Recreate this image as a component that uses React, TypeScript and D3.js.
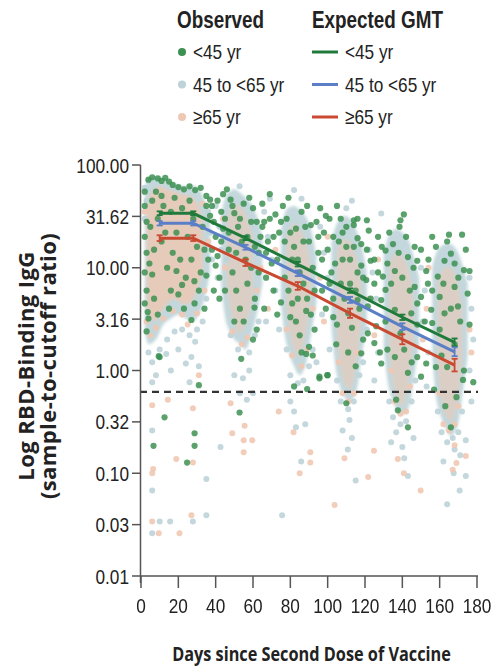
import React from 'react';
import * as d3 from 'd3';

// ---------- data ----------
const X_TICKS = [0, 20, 40, 60, 80, 100, 120, 140, 160, 180];
const Y_TICKS = [0.01, 0.03162, 0.1, 0.3162, 1, 3.162, 10, 31.62, 100];
const Y_TICK_LABELS = ['0.01', '0.03', '0.10', '0.32', '1.00', '3.16', '10.00', '31.62', '100.00'];
const THRESHOLD = 0.62;

const GMT_DAYS = [10, 28, 56, 84, 112, 140, 168];
const GMT_LT45 = [33.9, 33.9, 19.4, 10.8, 5.98, 3.3, 1.88];
const GMT_LT45_LO = [32.5, 32.5, 18.6, 10.3, 5.7, 3.1, 1.73];
const GMT_LT45_HI = [35.4, 35.4, 20.3, 11.4, 6.3, 3.5, 2.05];
const GMT_45_65 = [27.1, 27.1, 15.8, 8.83, 4.86, 2.67, 1.52];
const GMT_45_65_LO = [25.8, 25.8, 15.0, 8.3, 4.55, 2.48, 1.38];
const GMT_45_65_HI = [28.5, 28.5, 16.7, 9.4, 5.2, 2.88, 1.68];
const GMT_GE65 = [19.4, 19.4, 11.2, 6.64, 3.6, 2.01, 1.13];
const GMT_GE65_LO = [18.2, 18.2, 10.4, 6.1, 3.25, 1.8, 0.98];
const GMT_GE65_HI = [20.7, 20.7, 12.1, 7.25, 4.0, 2.25, 1.3];

// dense observed regions (day, low, high) for the 45-<65 and >=65 groups
const BAND_45_65: [number, number, number][][] = [
  [[2, 2.8, 60], [4, 1.8, 72], [8, 2.0, 75], [12, 2.8, 72], [16, 3.2, 68], [20, 3.5, 64], [24, 3.2, 62], [28, 3.0, 63], [31, 3.5, 58], [34, 5, 45], [37, 9, 30]],
  [[43, 7, 32], [46, 2.8, 52], [50, 2.0, 58], [53, 1.8, 54], [56, 1.6, 48], [59, 2.2, 42], [62, 3.5, 32], [65, 7, 20]],
  [[75, 4.5, 22], [78, 1.8, 37], [82, 1.1, 40], [85, 0.9, 37], [88, 1.1, 32], [91, 2.2, 24], [94, 4.5, 13]],
  [[102, 2.8, 17], [105, 0.9, 27], [109, 0.55, 32], [112, 0.5, 30], [115, 0.6, 24], [118, 1.3, 17], [121, 2.8, 9]],
  [[130, 1.8, 13], [133, 0.65, 21], [137, 0.42, 24], [140, 0.37, 22], [143, 0.42, 19], [146, 0.8, 13], [149, 1.8, 8]],
  [[156, 1.4, 10], [159, 0.45, 15], [163, 0.28, 17], [166, 0.23, 17], [169, 0.27, 15], [172, 0.55, 11], [175, 1.4, 7]],
];
const BAND_GE65: [number, number, number][][] = [
  [[3, 4, 45], [7, 3, 58], [10, 3.5, 62], [14, 4.5, 58], [18, 5, 55], [22, 4.5, 52], [26, 4.5, 50], [29, 5.5, 46], [33, 9, 30]],
  [[46, 6, 30], [50, 2.8, 42], [53, 2.3, 40], [56, 2.8, 34], [60, 5, 20]],
  [[78, 4, 21], [82, 1.6, 27], [85, 1.4, 24], [88, 2.2, 19], [91, 5, 10]],
  [[105, 2, 15], [109, 0.75, 19], [112, 0.65, 18], [115, 1.1, 13], [118, 3, 7]],
  [[133, 1.5, 11], [137, 0.55, 14], [140, 0.45, 13], [143, 0.75, 10], [146, 2, 5]],
  [[159, 1, 8], [163, 0.37, 10], [166, 0.32, 10], [169, 0.45, 8], [172, 1.2, 4]],
];

// individual observed points "day value"
const OBS_LT45 = `4 72, 6 76, 9 74, 11 70, 13 75, 15 69, 17 64, 20 61, 23 58, 26 62, 29 57, 32 60, 35 50, 37 46,
2 55, 2 40, 3 28, 2 20, 3 14, 2 9, 3 6, 2 4.5, 4 3.2, 3 2.4, 3.6 3.7,
6 45, 9 30, 11 18, 14 10, 16 35, 19 22, 21 12, 24 8, 26 45, 28 30, 30 16, 33 25, 35 40, 36 12, 31 6, 20 5.5, 15 4, 9 3.5, 27 3.1, 34 4, 4.5 11, 6 8.6, 19 9.3, 22 6.8, 28.6 7.4, 35 8.4, 28.7 4.5,
5 25, 7 15, 12 40, 13 22, 17 14, 18 48, 22 38, 25 20, 27 12, 32 9, 34 15, 8 55, 11 50, 16 6, 23 4, 7 5,
10 1.35, 31 0.72, 12.6 0.35, 6.7 0.185, 28.7 0.245, 28.7 0.185, 24.7 0.127, 9.5 1.38,
38 40, 39 28, 40 20, 41 13, 42 8, 43 35, 44 24, 40 10.5, 38 15, 44 52, 42 5, 39 6,
37 32, 41 45, 43 18, 45 30, 47 22, 49 40, 51 14, 53 30, 55 42, 57 20, 59 28, 61 16, 63 9, 65 25, 67 14, 69 30, 71 20, 73 12, 75 28, 45 6, 50 3, 62 2.5,
46 58, 48 46, 50 34, 52 25, 54 18, 56 12, 58 48, 60 38, 62 28, 64 20, 47 15, 49 9, 51 6, 53 4, 55 3, 57 7, 59 10, 61 5, 63 14, 65 42, 66 28, 68 18, 70 11, 67 8, 72 33, 74 22, 69 52, 71 6, 66 4, 60.8 4.1, 60 2.0, 53.7 1.3, 73 3.5, 75 4.6, 52.8 0.39,
76 40, 78 30, 80 22, 82 16, 84 12, 86 35, 88 25, 90 18, 92 10, 94 28, 77 8, 79 6, 81 4.5, 83 3, 85 2.2, 87 7, 89 5, 91 3.5, 93 2.5, 95 14, 96 38, 98 22, 100 15, 102 9, 97 6, 99 4, 101 30, 103 20, 104 11, 88.5 3.8, 90 1.7, 86 1.5, 95.6 0.87, 100 0.9, 104.6 1.8, 89 0.66, 82 0.7, 88.5 1.45, 95.6 0.84, 99.8 0.9,
77 18, 79 48, 81 12, 83 24, 85 9, 87 18, 89 40, 91 26, 93 6, 95 20, 97 12, 99 32, 101 7, 103 5, 80 3.3, 84 5, 92 1.4,
105 40, 107 30, 108 22, 110 16, 112 12, 114 26, 116 9, 107 7, 109 5, 111 3.6, 113 2.6, 115 6, 117 4, 119 2, 105 2.8, 103 3.3, 110 0.48, 114 29, 116 19.4, 118 17, 116 4.85, 118 10.5, 118 1.47,
106 18, 108 12, 110 25, 112 7, 114 16, 116 30, 119 8, 121 15, 123 5, 125 12, 127 9, 129 16, 131 3, 133 22, 134 7, 111 1.5, 115 1.1, 126 2.7,
121 29, 122 23, 127 20, 135 17, 131 14.7, 123 11.7, 132 11, 136 9.3, 129.6 8.2, 120.7 7.6, 125 7, 131 6.1, 128.7 4.85, 121.5 4.2, 136 3.9, 121.5 2.3, 125 1.85, 132 1.6, 136 1.35, 128.7 1.17, 128 1.5, 140.8 33, 139 29, 138.5 25, 146.6 16, 143 12.7, 148 11.7, 146.6 6.5, 144.8 3.6, 148 2.8, 148 1.35, 143 0.95, 136.7 0.52, 137.6 0.41, 143 0.28, 150 0.87,
138 14, 140 8, 142 20, 144 6, 146 10, 148 4.5, 150 15, 152 3, 154 12, 156 6, 158 16, 160 2.5, 162 7, 164 18, 166 4, 168 1.8, 170 8, 171 3, 174 15, 176 2.8, 139 2.3, 141 1.6, 145 1.2, 161 1.4, 169 0.55, 163 0.45,
156 20, 165 21, 172 21, 162.6 11.7, 166 13.7, 168 11, 173 9.5, 176 9.3, 159 8.2, 152.8 9.3, 153.7 7, 150 5.2, 160 5.2, 168 6.5, 175 5.6, 169.8 4.2, 162.6 3.6, 155.5 3.9, 156 2.9, 152.8 1.17, 158 1.08, 164 1.08, 173 1.0, 178 0.77, 172.5 0.81, 157 0.65, 166 0.28`;

const OBS_45_65 = `2 60, 3 45, 2 30, 4 70, 36 35, 37 22, 38 12, 35 5, 33 3, 30 2.5, 26 2.2, 22 2.5, 18 2.4, 14 2, 10 1.6, 6 1.2, 4 1.5, 8 0.9, 27 1.35, 24 1.17, 26 0.77, 13.5 1.45, 29 1.9, 31 1.1,
6 0.77, 6 0.26, 6 0.068, 6 0.026, 10 0.034, 15.6 0.034, 27.8 0.034, 35 0.088, 35 0.039, 42.6 0.18, 56.7 0.52, 75.6 0.039, 82 0.4, 85.8 0.13, 111.7 0.33, 115 0.085, 110.8 0.17, 136.7 0.25, 140 0.18, 143 0.094, 164 0.05, 170.7 0.068, 174 0.094, 174 0.21, 168 0.17, 167.5 0.1, 54.6 0.84,
40 40, 42 25, 43 15, 41 8, 52.8 62, 66 35, 68 20, 70 12, 72 6, 67 3, 74 2.5, 96 25, 98 14, 100 8, 97 3.5, 101 1.6, 94 1.2, 122 15, 124 9, 126 5, 121 2.5, 127 1.5, 125 0.8, 150 10, 152 6, 151 3, 154 1.5, 153 0.7, 176 8, 177 4, 178 2, 176 1, 177 0.5, 69 47, 86 47, 82 57, 110 38, 113 45, 128.7 33.8,
45 20, 46 12, 48 2.2, 52 1.6, 58 1.5, 61 2.2, 63 3, 78 1.6, 80 0.9, 84 0.75, 87 0.8, 90 1.1, 92 1.6, 105 0.8, 107 0.5, 111 0.42, 114 0.5, 117 0.9, 119 1.2, 133 0.5, 135 0.35, 139 0.3, 142 0.32, 145 0.5, 147 0.8, 159 0.4, 161 0.25, 164 0.2, 167 0.22, 170 0.25, 172 0.4,
50 0.9, 53 0.6, 60 0.6, 80 0.5, 83 0.28, 88 0.3, 108 0.26, 113 0.22, 134 0.2, 141 0.14, 146 0.22, 162 0.13, 171 0.15, 58 1.0, 20 1.6, 16 1.0`;

const OBS_GE65 = `6 0.46, 6 0.1, 6.5 0.11, 6 0.034, 9.5 0.026, 20.6 0.026, 18.9 0.138, 27.8 0.127, 27 0.039, 27.8 0.43, 31 0.9, 14.4 0.52, 48 0.48, 48.9 0.245, 55.5 0.29, 55 0.21, 59.6 0.21, 55 0.16, 73.8 0.4, 81.7 0.25, 90.7 0.16, 90.7 0.127, 85 0.1, 103.7 0.049, 109 0.14, 121.7 0.092, 124.8 0.166, 137.6 0.138, 140.8 0.1, 149.8 0.068, 168 0.187, 167 0.108, 169 0.126, 174 0.147,
3 3, 5 2.2, 8 2.6, 12 3.2, 17 3.8, 22 3.5, 25 2.8, 30 3.6, 34 6, 36 18, 33 42, 2 35, 45 10, 49 2.4, 54 1.8, 57 2.1, 62 6, 78 2.5, 81 1.4, 86 1.1, 89 1.6, 92 4, 106 1.2, 108 0.6, 111 0.5, 114 0.6, 116 1.5, 134 1.0, 136 0.5, 139 0.38, 142 0.4, 144 0.7, 160 0.6, 162 0.3, 165 0.26, 168 0.3, 170 0.45,
64 10, 68 4, 96 8, 98 3, 122 5, 125 2.2, 151 2, 153 4, 176 2.5, 177 1.5, 44 30, 72 15, 100 20, 127 12, 154 10`;

function parsePts(s: string): [number, number][] {
  return s
    .split(',')
    .map((t) => t.trim())
    .filter((t) => t.length > 0)
    .map((t) => {
      const p = t.split(/\s+/).map(Number);
      return [p[0], p[1]] as [number, number];
    });
}

const SANS = "'Liberation Sans', Arial, sans-serif";
const TITLE = "'Open Sans', 'DejaVu Sans', sans-serif";

const C_GREEN_DOT = '#3c9152';
const C_BLUE_DOT = '#bdd3d8';
const C_PEACH_DOT = '#efc8b3';
const C_GREEN = '#1f7a3c';
const C_BLUE = '#5b7fc6';
const C_RED = '#c94a30';

// horizontally condensed text
function NText(props: {
  x: number;
  y: number;
  size: number;
  anchor?: 'start' | 'middle' | 'end';
  weight?: number;
  sx?: number;
  family?: string;
  children: React.ReactNode;
}) {
  const sx = props.sx ?? 0.82;
  return (
    <text
      transform={`translate(${props.x},${props.y}) scale(${sx},1)`}
      textAnchor={props.anchor ?? 'start'}
      fontSize={props.size}
      fontWeight={props.weight ?? 400}
      fontFamily={props.family ?? SANS}
      fill="#222"
    >
      {props.children}
    </text>
  );
}

export default function App() {
  const W = 495;
  const H = 669;
  const x = d3.scaleLinear().domain([0, 180]).range([141, 477]);
  const y = d3.scaleLog().domain([0.01, 100]).range([576, 165]);

  const area = d3
    .area<[number, number, number]>()
    .x((d) => x(d[0]))
    .y0((d) => y(d[1]))
    .y1((d) => y(d[2]))
    .curve(d3.curveCatmullRom);

  const line = d3
    .line<[number, number]>()
    .x((d) => x(d[0]))
    .y((d) => y(d[1]));

  const greenPts = parsePts(OBS_LT45);
  const bluePts = parsePts(OBS_45_65);
  const peachPts = parsePts(OBS_GE65);

  const series = [
    { v: GMT_LT45, lo: GMT_LT45_LO, hi: GMT_LT45_HI, c: C_GREEN },
    { v: GMT_45_65, lo: GMT_45_65_LO, hi: GMT_45_65_HI, c: C_BLUE },
    { v: GMT_GE65, lo: GMT_GE65_LO, hi: GMT_GE65_HI, c: C_RED },
  ];

  const legendRows = [
    { label: '<45 yr', dot: C_GREEN_DOT, line: C_GREEN },
    { label: '45 to <65 yr', dot: C_BLUE_DOT, line: C_BLUE },
    { label: '\u226565 yr', dot: C_PEACH_DOT, line: C_RED },
  ];
  const rowY = [52, 84.5, 117];

  return (
    <svg width={W} height={H} style={{ display: 'block', position: 'absolute', left: 0, top: 0, background: '#fff' }}>
      <defs>
        <filter id="soft" x="-20%" y="-20%" width="140%" height="140%">
          <feGaussianBlur stdDeviation="1.5" />
        </filter>
        <filter id="dotblur" x="-20%" y="-20%" width="140%" height="140%">
          <feGaussianBlur stdDeviation="0.5" />
        </filter>
      </defs>
      <rect width={W} height={H} fill="#fff" />

      {/* dense bands */}
      <g filter="url(#soft)">
        {BAND_45_65.map((b, i) => (
          <path key={'b' + i} d={area(b) || ''} fill={C_BLUE_DOT} opacity={0.9} />
        ))}
        {BAND_GE65.map((b, i) => (
          <path key={'p' + i} d={area(b) || ''} fill={C_PEACH_DOT} opacity={i === 0 ? 0.8 : 0.55} />
        ))}
      </g>

      {/* observed points */}
      <g filter="url(#dotblur)">
        {bluePts.map((p, i) => (
          <circle key={'bp' + i} cx={x(p[0])} cy={y(p[1])} r={3} fill={C_BLUE_DOT} opacity={0.9} />
        ))}
        {peachPts.map((p, i) => (
          <circle key={'pp' + i} cx={x(p[0])} cy={y(p[1])} r={3} fill={C_PEACH_DOT} opacity={0.9} />
        ))}
        {greenPts.map((p, i) => (
          <circle key={'gp' + i} cx={x(p[0])} cy={y(p[1])} r={3.1} fill={C_GREEN_DOT} opacity={0.85} />
        ))}
      </g>

      {/* threshold */}
      <line x1={140} x2={478} y1={y(THRESHOLD)} y2={y(THRESHOLD)} stroke="#333" strokeWidth={2.2} strokeDasharray="7,5" />

      {/* expected GMT */}
      {series.map((s, si) => (
        <g key={'s' + si}>
          <path
            d={line(GMT_DAYS.map((d, i) => [d, s.v[i]] as [number, number])) || ''}
            fill="none"
            stroke={s.c}
            strokeWidth={3}
          />
          {GMT_DAYS.map((d, i) => (
            <g key={i} stroke={s.c} strokeWidth={1.8}>
              <line x1={x(d)} x2={x(d)} y1={y(s.lo[i])} y2={y(s.hi[i])} />
              <line x1={x(d) - 3} x2={x(d) + 3} y1={y(s.lo[i])} y2={y(s.lo[i])} />
              <line x1={x(d) - 3} x2={x(d) + 3} y1={y(s.hi[i])} y2={y(s.hi[i])} />
            </g>
          ))}
        </g>
      ))}

      {/* axes */}
      <g stroke="#555" strokeWidth={1.5}>
        <line x1={140.5} x2={140.5} y1={165} y2={583} />
        <line x1={140.5} x2={478} y1={576} y2={576} />
        {Y_TICKS.map((t, i) => (
          <line key={'yt' + i} x1={132} x2={140.5} y1={y(t)} y2={y(t)} />
        ))}
        {X_TICKS.map((t, i) => (
          <line key={'xt' + i} x1={x(t)} x2={x(t)} y1={576} y2={588} />
        ))}
      </g>
      {Y_TICKS.map((t, i) => (
        <NText key={'yl' + i} x={129} y={y(t) + 7.5} size={21} anchor="end">
          {Y_TICK_LABELS[i]}
        </NText>
      ))}
      {X_TICKS.map((t, i) => (
        <NText key={'xl' + i} x={x(t)} y={613} size={21} anchor="middle">
          {t}
        </NText>
      ))}

      {/* axis titles */}
      <NText x={311.5} y={661} size={19.5} anchor="middle" weight={700} family={TITLE} sx={0.835}>
        Days since Second Dose of Vaccine
      </NText>
      <g fontFamily={TITLE} fontWeight={700} fontSize={22} fill="#222" textAnchor="middle" letterSpacing={0.4}>
        <text transform={`translate(34,366) rotate(-90)`}>Log RBD-Binding IgG</text>
        <text transform={`translate(56,366) rotate(-90)`}>(sample-to-cutoff ratio)</text>
      </g>

      {/* legend */}
      <NText x={177} y={28} size={23} weight={700}>Observed</NText>
      <NText x={312} y={28} size={23} weight={700}>Expected GMT</NText>
      {legendRows.map((r, i) => (
        <g key={'lg' + i}>
          <circle cx={182} cy={rowY[i]} r={4} fill={r.dot} />
          <NText x={193} y={rowY[i] + 7} size={21}>{r.label}</NText>
          <line x1={312} x2={338} y1={rowY[i]} y2={rowY[i]} stroke={r.line} strokeWidth={3} />
          <NText x={345} y={rowY[i] + 7} size={21}>{r.label}</NText>
        </g>
      ))}
    </svg>
  );
}
